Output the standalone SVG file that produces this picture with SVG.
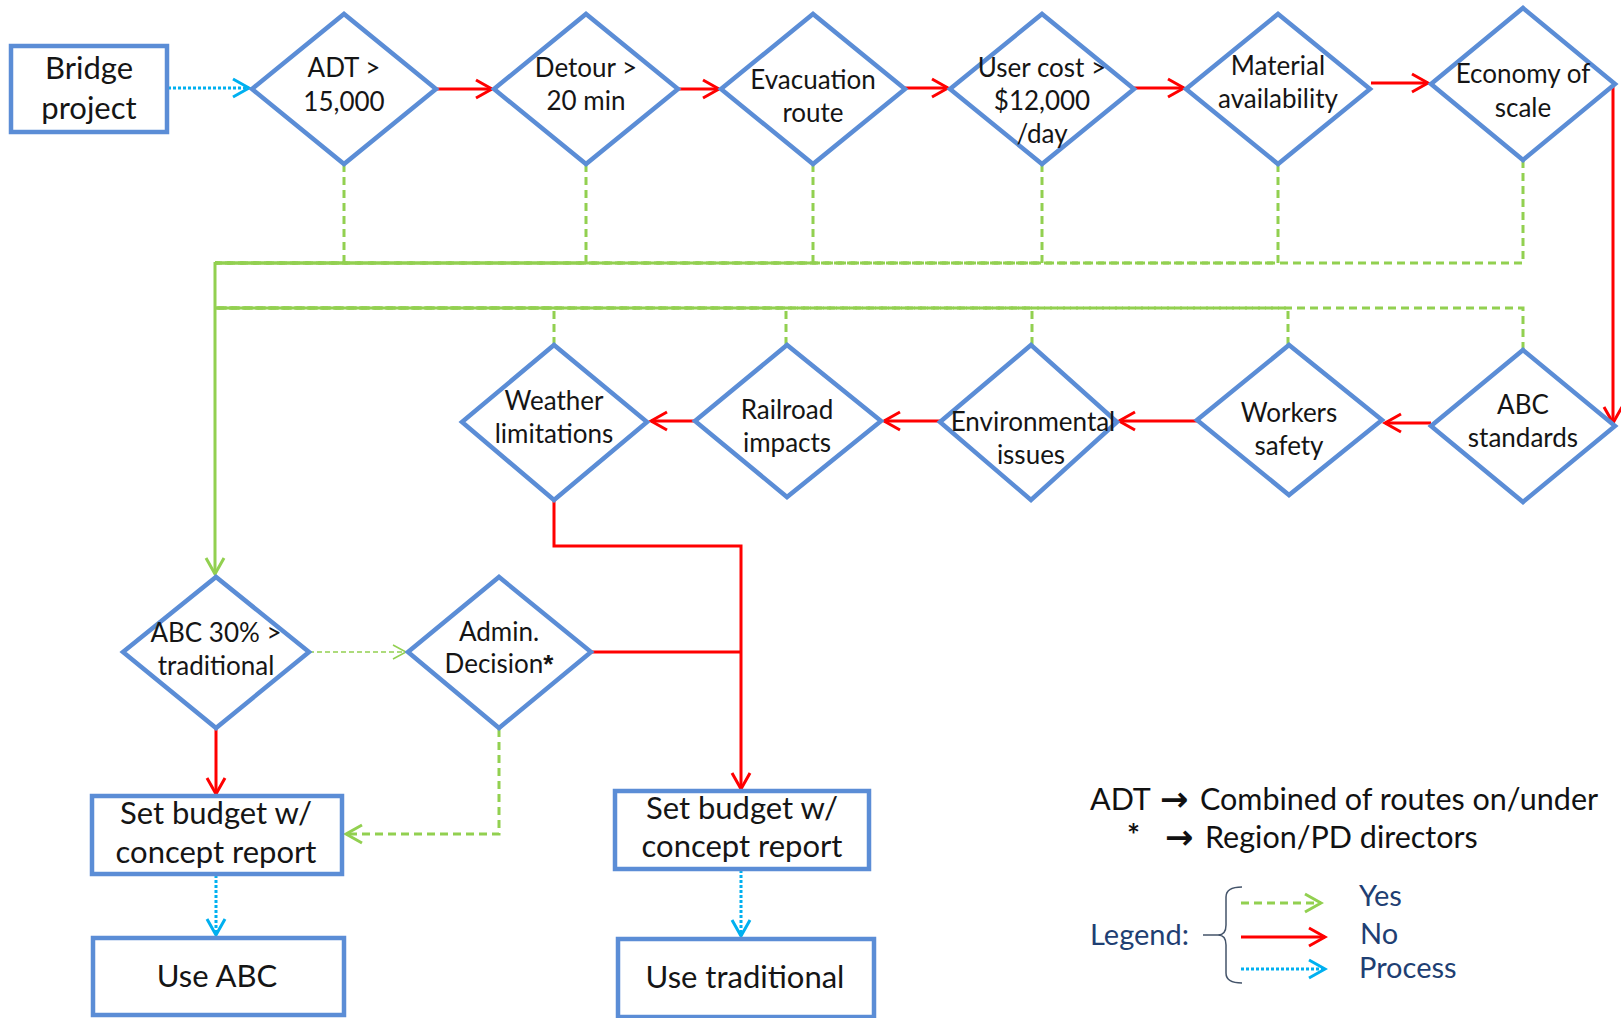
<svg xmlns="http://www.w3.org/2000/svg" width="1621" height="1018" viewBox="0 0 1621 1018">
<style>
.dia{fill:#fff;stroke:#5B8DD6;stroke-width:4.5;stroke-linejoin:miter}
.box{fill:#fff;stroke:#5B8DD6;stroke-width:4.5}
.t{font-family:Lato,"Liberation Sans",sans-serif;font-size:26px;fill:#151515;text-anchor:middle}
.tb{font-size:31px}
.ast{font-family:"Liberation Sans",sans-serif;font-weight:bold}
.no{stroke:#FF0000;stroke-width:3;fill:none}
.yes{stroke:#92D050;stroke-width:3;fill:none;stroke-dasharray:8 5}
.yesS{stroke:#92D050;stroke-width:3;fill:none}
.yesT{stroke:#92D050;stroke-width:1.5;fill:none;stroke-dasharray:5 3}
.proc{stroke:#00B0F0;stroke-width:3;fill:none;stroke-dasharray:3 2}
.lg{font-family:Lato,"Liberation Sans",sans-serif;font-size:29px;fill:#1F3F73}
.lk{font-family:Lato,"Liberation Sans",sans-serif;font-size:30.5px;fill:#111}
.arr{font-family:"DejaVu Sans",sans-serif;font-weight:bold;font-size:34px;fill:#111}
</style>
<defs>
<marker id="aR" markerUnits="userSpaceOnUse" markerWidth="20" markerHeight="22" viewBox="0 0 20 22" refX="17" refY="11" orient="auto"><path d="M1,2 L17,11 L1,20" fill="none" stroke="#FF0000" stroke-width="3"/></marker>
<marker id="aG" markerUnits="userSpaceOnUse" markerWidth="20" markerHeight="22" viewBox="0 0 20 22" refX="17" refY="11" orient="auto"><path d="M1,2 L17,11 L1,20" fill="none" stroke="#92D050" stroke-width="3"/></marker>
<marker id="aGt" markerUnits="userSpaceOnUse" markerWidth="16" markerHeight="18" viewBox="0 0 16 18" refX="14" refY="9" orient="auto"><path d="M1,2 L14,9 L1,16" fill="none" stroke="#92D050" stroke-width="1.5"/></marker>
<marker id="aB" markerUnits="userSpaceOnUse" markerWidth="20" markerHeight="22" viewBox="0 0 20 22" refX="17" refY="11" orient="auto"><path d="M1,2 L17,11 L1,20" fill="none" stroke="#00B0F0" stroke-width="3"/></marker>
</defs>

<g id="connectors">
<path class="proc" d="M168,88 H249" marker-end="url(#aB)"/>
<path class="no" d="M436,89 H492" marker-end="url(#aR)"/>
<path class="no" d="M678,89 H719" marker-end="url(#aR)"/>
<path class="no" d="M905,88 H948" marker-end="url(#aR)"/>
<path class="no" d="M1134,88 H1184" marker-end="url(#aR)"/>
<path class="no" d="M1371,83 H1428" marker-end="url(#aR)"/>
<path class="no" d="M1613,84 V423" marker-end="url(#aR)"/>
<path class="no" d="M1431,423 H1385" marker-end="url(#aR)"/>
<path class="no" d="M1197,421 H1119" marker-end="url(#aR)"/>
<path class="no" d="M940,421 H884" marker-end="url(#aR)"/>
<path class="no" d="M695,421 H651" marker-end="url(#aR)"/>
<path class="yes" d="M344,164 V263 H215"/>
<path class="yes" d="M586,164 V263 H215"/>
<path class="yes" d="M813,164 V263 H215"/>
<path class="yes" d="M1042,164 V263 H215"/>
<path class="yes" d="M1278,164 V263 H215"/>
<path class="yes" d="M1523,160 V263 H215"/>
<path class="yes" d="M554,345 V308 H215"/>
<path class="yes" d="M786,345 V308 H215"/>
<path class="yes" d="M1032,345 V308 H215"/>
<path class="yes" d="M1288,345 V308 H215"/>
<path class="yes" d="M1523,350 V308 H215"/>
<path class="yesS" d="M215,262 V574" marker-end="url(#aG)"/>
<path class="yesT" d="M309,652 H406" marker-end="url(#aGt)"/>
<path class="yes" d="M499,729 V834 H346" marker-end="url(#aG)"/>
<path class="no" d="M216,729 V794" marker-end="url(#aR)"/>
<path class="no" d="M554,500 V546 H741 V789" marker-end="url(#aR)"/>
<path class="no" d="M591,652 H741"/>
<path class="proc" d="M216,875 V935" marker-end="url(#aB)"/>
<path class="proc" d="M741,870 V936" marker-end="url(#aB)"/>
</g>

<g id="n-bridge"><rect class="box" x="11" y="46" width="156" height="86"/><text class="t tb" x="89" y="79">Bridge</text><text class="t tb" x="89" y="119">project</text></g>
<g id="n-adt"><polygon class="dia" points="252,89 344,14 436,89 344,164"/><text class="t" x="344" y="77">ADT &gt;</text><text class="t" x="344" y="111">15,000</text></g>
<g id="n-detour"><polygon class="dia" points="494,89 586,14 678,89 586,164"/><text class="t" x="586" y="77">Detour &gt;</text><text class="t" x="586" y="110">20 min</text></g>
<g id="n-evac"><polygon class="dia" points="721,89 813,14 905,89 813,164"/><text class="t" x="813" y="89">Evacuation</text><text class="t" x="813" y="122">route</text></g>
<g id="n-usercost"><polygon class="dia" points="950,89 1042,14 1134,89 1042,164"/><text class="t" x="1042" y="77">User cost &gt;</text><text class="t" x="1042" y="110">$12,000</text><text class="t" x="1042" y="143">/day</text></g>
<g id="n-material"><polygon class="dia" points="1186,89 1278,14 1370,89 1278,164"/><text class="t" x="1278" y="75">Material</text><text class="t" x="1278" y="108">availability</text></g>
<g id="n-economy"><polygon class="dia" points="1431,84 1523,8 1615,84 1523,160"/><text class="t" x="1523" y="83">Economy of</text><text class="t" x="1523" y="117">scale</text></g>

<g id="n-abcstd"><polygon class="dia" points="1431,426 1523,350 1615,426 1523,502"/><text class="t" x="1523" y="414">ABC</text><text class="t" x="1523" y="447">standards</text></g>
<g id="n-workers"><polygon class="dia" points="1197,420 1289,345 1382,420 1289,495"/><text class="t" x="1289" y="422">Workers</text><text class="t" x="1289" y="455">safety</text></g>
<g id="n-env"><polygon class="dia" points="940,422 1031,345 1117,422 1031,500"/><text class="t" x="1033" y="431">Environmental</text><text class="t" x="1031" y="464">issues</text></g>
<g id="n-rail"><polygon class="dia" points="695,421 787,345 881,421 787,497"/><text class="t" x="787" y="419">Railroad</text><text class="t" x="787" y="452">impacts</text></g>
<g id="n-weather"><polygon class="dia" points="462,422 554,345 647,422 554,500"/><text class="t" x="554" y="410">Weather</text><text class="t" x="554" y="443">limitations</text></g>

<g id="n-abc30"><polygon class="dia" points="123,652 216,577 309,652 216,728"/><text class="t" x="216" y="642">ABC 30% &gt;</text><text class="t" x="216" y="675">traditional</text></g>
<g id="n-admin"><polygon class="dia" points="408,652 499,577 591,652 499,728"/><text class="t" x="499" y="641">Admin.</text><text class="t" x="499" y="673">Decision<tspan class="ast">*</tspan></text></g>

<g id="n-budget-abc"><rect class="box" x="92" y="796" width="250" height="78"/><text class="t tb" x="216" y="824">Set budget w/</text><text class="t tb" x="216" y="863">concept report</text></g>
<g id="n-budget-trad"><rect class="box" x="615" y="791" width="254" height="78"/><text class="t tb" x="742" y="819">Set budget w/</text><text class="t tb" x="742" y="857">concept report</text></g>
<g id="n-use-abc"><rect class="box" x="93" y="938" width="251" height="77"/><text class="t tb" x="217" y="987">Use ABC</text></g>
<g id="n-use-trad"><rect class="box" x="618" y="939" width="256" height="78"/><text class="t tb" x="745" y="988">Use traditional</text></g>

<g id="legend">
<text class="lk" x="1090" y="810">ADT</text>
<text class="arr" x="1160" y="811">→</text>
<text class="lk" x="1200" y="810">Combined of routes on/under</text>
<text class="lk ast" x="1127" y="846">*</text>
<text class="arr" x="1165" y="849">→</text>
<text class="lk" x="1205" y="848">Region/PD directors</text>
<text class="lg" x="1090" y="945">Legend:</text>
<path d="M1203,935 H1218 M1242,887 Q1226,887 1226,897 V925 Q1226,935 1218,935 Q1226,935 1226,945 V973 Q1226,983 1242,983" fill="none" stroke="#44546A" stroke-width="1.5"/>
<path class="yes" d="M1241,903 H1321" marker-end="url(#aG)"/>
<path class="no" d="M1241,937 H1325" marker-end="url(#aR)"/>
<path class="proc" d="M1241,969 H1325" marker-end="url(#aB)"/>
<text class="lg" x="1359" y="906">Yes</text>
<text class="lg" x="1360" y="944">No</text>
<text class="lg" x="1359" y="978">Process</text>
</g>
</svg>
